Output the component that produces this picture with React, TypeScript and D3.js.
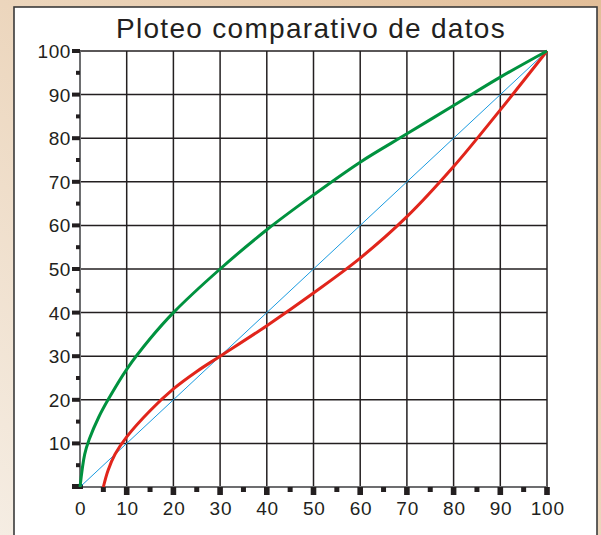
import React from "react";
import * as d3 from "d3";

const title = "Ploteo comparativo de datos";
const xTicks = [0, 10, 20, 30, 40, 50, 60, 70, 80, 90, 100];
const yTicks = [10, 20, 30, 40, 50, 60, 70, 80, 90, 100];
const minorTicks = [5, 15, 25, 35, 45, 55, 65, 75, 85, 95];

const greenX = [0, 1, 2, 4, 6, 10, 15, 20, 30, 40, 50, 60, 70, 80, 90, 100];
const greenY = [0, 7.5, 11, 16, 20, 27, 34, 40, 50, 59, 67, 74.5, 81, 87.5, 94, 100];
const redX = [5, 6, 7.5, 10, 15, 20, 25, 30, 40, 50, 60, 70, 80, 90, 100];
const redY = [0, 3.8, 7.5, 11.5, 17.5, 22.5, 26.5, 30, 37, 44.5, 52.5, 62, 73.5, 86.5, 100];
const diagX = [0, 100];
const diagY = [0, 100];

export default function App() {
  const x = d3.scaleLinear().domain([0, 100]).range([80, 547]);
  const y = d3.scaleLinear().domain([0, 100]).range([487, 51]);
  const line = d3
    .line<[number, number]>()
    .x((d) => x(d[0]))
    .y((d) => y(d[1]))
    .curve(d3.curveCatmullRom.alpha(0.5));
  const zip = (a: number[], b: number[]) => a.map((v, i) => [v, b[i]] as [number, number]);
  const font = "'Liberation Sans', Arial, sans-serif";
  return (
    <svg width={601} height={535} style={{ position: "absolute", left: 0, top: 0 }}>
      <defs>
        <linearGradient id="bg" x1="0" y1="1" x2="1" y2="0">
          <stop offset="0" stopColor="#f5ede3" />
          <stop offset="0.5" stopColor="#ecd6bd" />
          <stop offset="1" stopColor="#e2be98" />
        </linearGradient>
      </defs>
      <rect x={0} y={0} width={601} height={535} fill="url(#bg)" />
      <rect x={14} y={7} width={583} height={540} fill="#ffffff" stroke="#3a3a3a" strokeWidth={1.6} />
      <text x={311} y={38} textAnchor="middle" fontFamily={font} fontSize={28} letterSpacing={1.3} fill="#231f20">
        {title}
      </text>
      {/* grid */}
      {xTicks.slice(1).map((t) => (
        <line key={"gx" + t} x1={x(t)} x2={x(t)} y1={y(0)} y2={y(100)} stroke="#231f20" strokeWidth={1.5} />
      ))}
      {yTicks.map((t) => (
        <line key={"gy" + t} x1={x(0)} x2={x(100)} y1={y(t)} y2={y(t)} stroke="#231f20" strokeWidth={1.5} />
      ))}
      {/* axes */}
      <line x1={x(0)} x2={x(0)} y1={y(0) + 1} y2={y(100)} stroke="#6d6e70" strokeWidth={2} />
      <line x1={x(0)} x2={x(100)} y1={y(0)} y2={y(0)} stroke="#6d6e70" strokeWidth={2} />
      {/* y ticks */}
      {yTicks.map((t) => (
        <rect key={"ty" + t} x={x(0) - 8} y={y(t) - 2} width={8} height={4} fill="#231f20" />
      ))}
      <rect x={x(0) - 8} y={y(0) - 3} width={11} height={5} fill="#231f20" />
      {minorTicks.map((t) => (
        <rect key={"my" + t} x={x(0) - 4} y={y(t) - 2} width={4} height={4} fill="#231f20" />
      ))}
      {/* x ticks */}
      {xTicks.slice(1).map((t) => (
        <rect key={"tx" + t} x={x(t) - 2.8} y={y(0)} width={5.6} height={8} fill="#231f20" />
      ))}
      {minorTicks.map((t) => (
        <rect key={"mx" + t} x={x(t) - 2.5} y={y(0)} width={5} height={5} fill="#231f20" />
      ))}
      {/* labels */}
      {yTicks.map((t) => (
        <text key={"ly" + t} x={71} y={y(t) + 7} textAnchor="end" fontFamily={font} fontSize={19} letterSpacing={0.6} fill="#231f20">
          {t}
        </text>
      ))}
      {xTicks.map((t) => (
        <text key={"lx" + t} x={x(t) + 0.8} y={515} textAnchor="middle" fontFamily={font} fontSize={19} letterSpacing={0.8} fill="#231f20">
          {t}
        </text>
      ))}
      {/* series */}
      <path d={line(zip(diagX, diagY)) || ""} fill="none" stroke="#1a9be0" strokeWidth={1} />
      <path d={line(zip(redX, redY)) || ""} fill="none" stroke="#e1251b" strokeWidth={3} />
      <path d={line(zip(greenX, greenY)) || ""} fill="none" stroke="#00923f" strokeWidth={3} />
    </svg>
  );
}
